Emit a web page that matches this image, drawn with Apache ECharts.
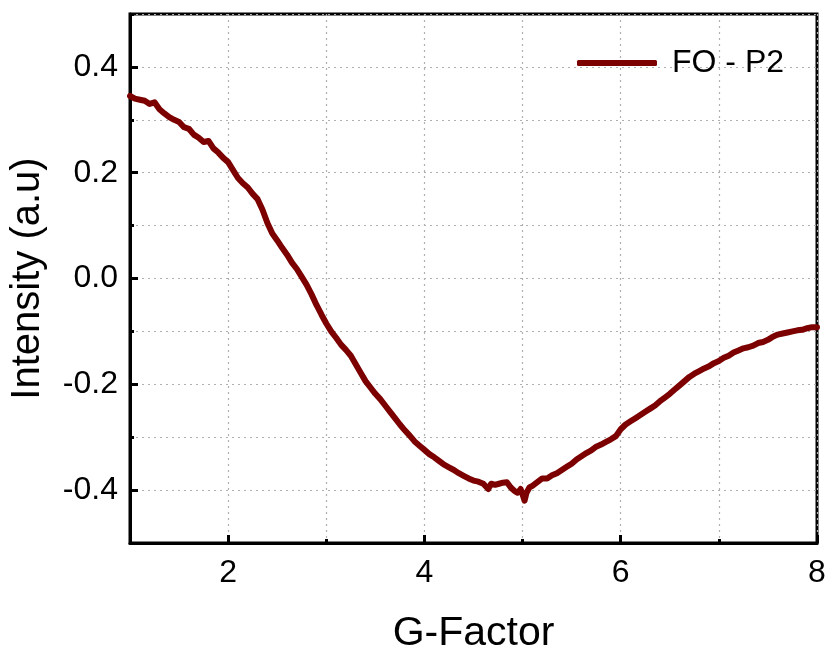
<!DOCTYPE html>
<html>
<head>
<meta charset="utf-8">
<script src="https://cdn.jsdelivr.net/npm/echarts@6/dist/echarts.min.js"></script>
<style>html,body{margin:0;padding:0;background:#fff;}#chart{width:831px;height:652px;}</style>
</head>
<body>
<div id="chart"></div>
<script>
const seriesName = 'FO - P2';
const xTitle = 'G-Factor';
const yTitle = 'Intensity (a.u)';
const xMajorTicks = [2, 4, 6, 8];
const yMajorTicks = [-0.4, -0.2, 0.0, 0.2, 0.4];
const gValues = [
  1.00,1.05,1.10,1.15,1.20,1.25,1.30,1.35,1.40,1.45,1.50,1.55,1.60,1.65,1.70,1.75,1.80,1.85,1.90,1.95,
  2.00,2.05,2.10,2.15,2.20,2.25,2.30,2.35,2.40,2.45,2.50,2.55,2.60,2.65,2.70,2.75,2.80,2.85,2.90,2.95,
  3.00,3.05,3.10,3.15,3.20,3.25,3.30,3.35,3.40,3.45,3.50,3.55,3.60,3.65,3.70,3.75,3.80,3.85,3.90,3.95,
  4.00,4.05,4.10,4.15,4.20,4.25,4.30,4.35,4.40,4.45,4.50,4.55,4.60,4.65,4.68,4.72,4.76,4.80,4.84,4.88,
  4.92,4.95,4.98,5.00,5.02,5.04,5.07,5.10,5.15,5.20,5.25,5.30,5.35,5.40,5.45,5.50,5.55,5.60,5.65,5.70,
  5.75,5.80,5.85,5.90,5.95,6.00,6.05,6.10,6.15,6.20,6.25,6.30,6.35,6.40,6.45,6.50,6.55,6.60,6.65,6.70,
  6.75,6.80,6.85,6.90,6.95,7.00,7.05,7.10,7.15,7.20,7.25,7.30,7.35,7.40,7.45,7.50,7.55,7.60,7.65,7.70,
  7.75,7.80,7.85,7.90,7.95,8.00
];
const intensity = [
  0.345,0.340,0.338,0.336,0.330,0.333,0.320,0.312,0.305,0.300,0.296,0.286,0.283,0.272,0.266,0.258,0.260,0.246,0.238,0.228,
  0.220,0.205,0.190,0.180,0.172,0.160,0.150,0.130,0.105,0.085,0.072,0.058,0.045,0.030,0.018,0.003,-0.012,-0.030,-0.050,-0.068,
  -0.085,-0.100,-0.112,-0.125,-0.135,-0.146,-0.162,-0.178,-0.194,-0.206,-0.218,-0.228,-0.240,-0.252,-0.264,-0.276,-0.287,-0.297,-0.308,-0.316,
  -0.324,-0.332,-0.338,-0.345,-0.352,-0.357,-0.362,-0.368,-0.373,-0.378,-0.382,-0.384,-0.388,-0.398,-0.388,-0.390,-0.388,-0.386,-0.385,-0.395,
  -0.402,-0.405,-0.398,-0.408,-0.420,-0.405,-0.395,-0.392,-0.385,-0.378,-0.378,-0.372,-0.368,-0.362,-0.356,-0.350,-0.342,-0.336,-0.330,-0.325,
  -0.318,-0.314,-0.309,-0.304,-0.298,-0.285,-0.276,-0.270,-0.264,-0.258,-0.252,-0.246,-0.240,-0.232,-0.225,-0.218,-0.210,-0.202,-0.194,-0.186,
  -0.180,-0.175,-0.170,-0.166,-0.160,-0.156,-0.150,-0.146,-0.140,-0.136,-0.132,-0.130,-0.127,-0.122,-0.120,-0.116,-0.110,-0.106,-0.104,-0.102,
  -0.100,-0.098,-0.097,-0.094,-0.092,-0.092
];

const FONT = '"Liberation Sans", Arial, sans-serif';
const LINE_COLOR = '#7d0000';
const data = gValues.map((g, i) => [g, intensity[i]]);

const chart = echarts.init(document.getElementById('chart'), null, {renderer: 'canvas'});
const gridSplit = {show: true, lineStyle: {color: '#b0b0b0', type: [2, 4], width: 1.2}};
chart.setOption({
  animation: false,
  backgroundColor: '#fff',
  grid: {left: 130, right: 14, top: 14, bottom: 109, show: true, borderColor: '#000', borderWidth: 3,
    backgroundColor: 'transparent', containLabel: false, outerBoundsMode: 'none'},
  legend: {
    data: [{name: seriesName, icon: 'roundRect'}],
    left: 572, top: 42,
    itemWidth: 80, itemHeight: 6,
    itemStyle: {color: LINE_COLOR},
    textStyle: {fontFamily: FONT, fontSize: 32, color: '#000', padding: [0, 0, 0, 10]}
  },
  xAxis: [
    {
      type: 'value', min: 1, max: 8, position: 'bottom',
      axisLine: {show: true, onZero: false, lineStyle: {color: '#000', width: 3}},
      axisTick: {show: true, inside: true, length: 8, lineStyle: {color: '#000', width: 3}, customValues: xMajorTicks},
      axisLabel: {show: true, customValues: xMajorTicks, margin: 14, fontFamily: FONT, fontSize: 32, color: '#000'},
      splitLine: {show: false},
      name: xTitle, nameLocation: 'middle', nameGap: 70,
      nameTextStyle: {fontFamily: FONT, fontSize: 41, color: '#000'}
    },
    {
      type: 'value', min: 1, max: 8, interval: 1, position: 'bottom',
      axisLine: {show: false, onZero: false},
      axisTick: {show: true, inside: true, length: 4, lineStyle: {color: '#000', width: 3}},
      axisLabel: {show: false},
      splitLine: gridSplit
    }
  ],
  yAxis: [
    {
      type: 'value', min: -0.5, max: 0.5, position: 'left',
      axisLine: {show: true, onZero: false, lineStyle: {color: '#000', width: 3}},
      axisTick: {show: true, inside: true, length: 8, lineStyle: {color: '#000', width: 3}, customValues: yMajorTicks},
      axisLabel: {show: true, customValues: yMajorTicks, margin: 12, fontFamily: FONT, fontSize: 32, color: '#000',
        formatter: v => v.toFixed(1)},
      splitLine: {show: false},
      name: yTitle, nameLocation: 'middle', nameGap: 82, nameRotate: 90,
      nameTextStyle: {fontFamily: FONT, fontSize: 40, color: '#000'}
    },
    {
      type: 'value', min: -0.5, max: 0.5, interval: 0.1, position: 'left',
      axisLine: {show: false, onZero: false},
      axisTick: {show: true, inside: true, length: 4, lineStyle: {color: '#000', width: 3}},
      axisLabel: {show: false},
      splitLine: gridSplit
    }
  ],
  series: [{
    name: seriesName,
    type: 'line',
    xAxisIndex: 0, yAxisIndex: 0,
    data: data,
    showSymbol: false, symbol: 'none',
    lineStyle: {color: LINE_COLOR, width: 6, cap: 'round', join: 'round'},
    itemStyle: {color: LINE_COLOR},
    z: 5
  }]
});
</script>
</body>
</html>
